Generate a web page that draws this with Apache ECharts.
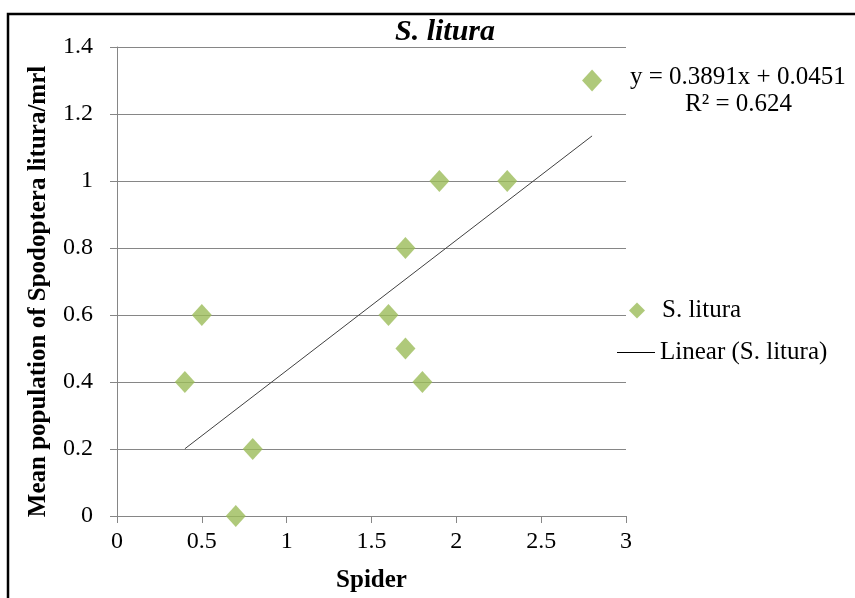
<!DOCTYPE html>
<html><head><meta charset="utf-8">
<script src="https://cdn.jsdelivr.net/npm/echarts@6/dist/echarts.min.js"></script>
<style>html,body{margin:0;padding:0;background:#fff}#c{width:855px;height:598px}</style>
</head><body><div id="c"></div>
<script>
const spider = [0.4, 0.5, 0.7, 0.8, 1.6, 1.7, 1.7, 1.8, 1.9, 2.3, 2.8];
const litura = [0.4, 0.6, 0.0, 0.2, 0.6, 0.8, 0.5, 0.4, 1.0, 1.0, 1.3];
const slope = 0.3891, intercept = 0.0451;
const equationText = 'y = 0.3891x + 0.0451';
const r2Text = 'R² = 0.624';
const xTicks = [0, 0.5, 1, 1.5, 2, 2.5, 3];
const yTicks = [0, 0.2, 0.4, 0.6, 0.8, 1, 1.2, 1.4];

const pts = spider.map((x, i) => [x, litura[i]]);
const xMin = Math.min(...spider), xMax = Math.max(...spider);
const trend = [[xMin, slope * xMin + intercept], [xMax, slope * xMax + intercept]];
const font = '"Liberation Serif", "Times New Roman", serif';
const grey = '#868686';

const chart = echarts.init(document.getElementById('c'));
chart.setOption({
  animation: false,
  textStyle: {fontFamily: font},
  title: {text: 'S. litura', left: 440, top: 12, textAlign: 'center',
    textStyle: {fontFamily: font, fontSize: 30, fontWeight: 'bold', fontStyle: 'italic', color: '#000'}},
  grid: {left: 117, right: 229, top: 47, bottom: 82},
  xAxis: {type: 'value', min: 0, max: 3, interval: 0.5,
    name: 'Spider', nameLocation: 'middle', nameGap: 52,
    nameTextStyle: {fontFamily: font, fontSize: 25, fontWeight: 'bold', color: '#000'},
    axisLine: {show: true, onZero: false, lineStyle: {color: grey}},
    axisTick: {show: true, length: 7, lineStyle: {color: grey}},
    axisLabel: {fontFamily: font, fontSize: 24, color: '#000', margin: 14,
      formatter: v => { const t = xTicks.find(k => Math.abs(k - v) < 1e-9); return t === undefined ? '' : String(t); }},
    splitLine: {show: false}},
  yAxis: {type: 'value', min: 0, max: 1.4, interval: 0.2,
    name: 'Mean population of Spodoptera litura/mrl', nameLocation: 'middle', nameGap: 66,
    nameTextStyle: {fontFamily: font, fontSize: 25, fontWeight: 'bold', color: '#000', padding: [0, 20, 0, 0]},
    axisLine: {show: true, lineStyle: {color: grey}},
    axisTick: {show: true, length: 7, lineStyle: {color: grey}},
    axisLabel: {fontFamily: font, fontSize: 24, color: '#000', margin: 24,
      formatter: v => { const t = yTicks.find(k => Math.abs(k - v) < 1e-9); return t === undefined ? '' : String(t); }},
    splitLine: {show: true, lineStyle: {color: grey, width: 1}}},
  legend: [
    {data: ['S. litura'], left: 624, top: 293, itemWidth: 16, itemHeight: 16,
      textStyle: {fontFamily: font, fontSize: 25, color: '#000', padding: [0, 0, 0, 12]}},
    {data: [{name: 'Linear (S. litura)', icon: 'rect'}], left: 612, top: 335, itemWidth: 38, itemHeight: 1,
      textStyle: {fontFamily: font, fontSize: 25, color: '#000'}}
  ],
  series: [
    {name: 'S. litura', type: 'scatter', data: pts, symbol: 'diamond', symbolSize: [20, 22],
      itemStyle: {color: '#9BBB59'}, z: 3},
    {name: 'Linear (S. litura)', type: 'line', data: trend, showSymbol: false, symbol: 'none',
      lineStyle: {color: '#404040', width: 1}, itemStyle: {color: '#000'}, z: 2}
  ],
  graphic: [
    {type: 'rect', shape: {x: 8, y: 14, width: 860, height: 600}, style: {fill: 'none', stroke: '#000', lineWidth: 2.5}, silent: true},
    {type: 'text', left: 630, top: 65, style: {text: equationText, font: '25px ' + font, fill: '#000'}},
    {type: 'text', left: 685, top: 92, style: {text: r2Text, font: '25px ' + font, fill: '#000'}}
  ]
});
</script></body></html>
